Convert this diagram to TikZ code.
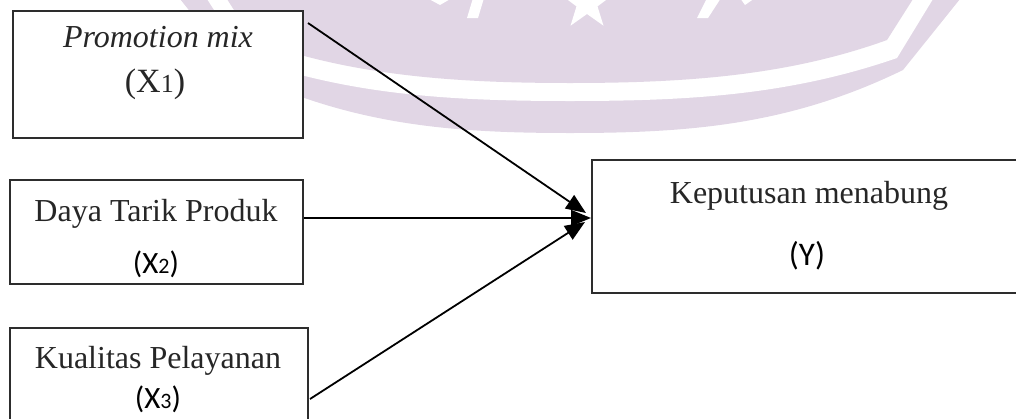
\documentclass[tikz,border=0pt]{standalone}
\usepackage{fontspec}
\setmainfont{Liberation Serif}
\newfontfamily\calib{Carlito}
\usetikzlibrary{arrows.meta}
\definecolor{wm}{RGB}{225,214,229}
\definecolor{ink}{RGB}{38,38,38}
\definecolor{edge}{RGB}{45,45,45}
\begin{document}
\begin{tikzpicture}[x=1pt,y=-1pt,
  box/.style={draw=edge, line width=2pt, fill=white, rectangle, anchor=north west, inner sep=0pt, outer sep=0pt},
  lbl/.style={anchor=base, inner sep=0pt, text=ink, font=\fontsize{32}{38}\selectfont},
  sub/.style={anchor=base, inner sep=0pt, text=black, font=\calib\fontsize{31}{36}\selectfont},
  arr/.style={line width=1.8pt, draw=black, -{Triangle[length=20pt,width=16pt]}},
  wmw/.style={fill=white, draw=none}
]
\useasboundingbox (0,0) rectangle (1016,418);
\clip (0,0) rectangle (1016,418);
% watermark (faint crest)
\fill[wm] (180,-1) -- (237,70) .. controls (350,125) and (450,133) .. (570,133)
  .. controls (690,133) and (790,125) .. (903,70) -- (960,-1) -- cycle;
\fill[wmw] (207,-1) -- (245,58) .. controls (350,95) and (450,101) .. (570,101)
  .. controls (690,101) and (790,95) .. (897,58) -- (933,-1) -- cycle;
\fill[wm] (227,-1) -- (253,40) .. controls (350,75) and (450,83) .. (570,83)
  .. controls (690,83) and (790,75) .. (887,40) -- (913,-1) -- cycle;
\fill[wmw] (587,-25) -- (580.5,-5.9) -- (560.4,-5.7) -- (576.5,6.4) -- (570.5,25.7)
  -- (587,14) -- (603.5,25.7) -- (597.5,6.4) -- (613.6,-5.7) -- (593.5,-5.9) -- cycle;
\fill[wmw] (473,-2) -- (484,-2) -- (478,18) -- (467,18) -- cycle;
\fill[wmw] (707,-2) -- (721,-2) -- (708,18) -- (697,18) -- cycle;
\fill[wmw] (740,-2) -- (755,-2) -- (745,5) -- cycle;
\fill[wmw] (427,-2) -- (452,-2) -- (440,5) -- cycle;
% boxes
\node[box, minimum width=290pt, minimum height=127pt] (x1) at (13,11) {};
\node[box, minimum width=293pt, minimum height=104pt] (x2) at (10,180) {};
\node[box, minimum width=298pt, minimum height=130pt] (x3) at (10,328) {};
\node[box, minimum width=460pt, minimum height=133pt] (y) at (592,160) {};
% connector ends
\coordinate (s1) at (308,23);
\coordinate (s2) at (304,218);
\coordinate (s3) at (310,399);
\coordinate (t1) at (586,213);
\coordinate (t2) at (591,218);
\coordinate (t3) at (585,222);
\draw[arr] (s1) -- (t1);
\draw[arr] (s2) -- (t2);
\draw[arr] (s3) -- (t3);
% labels
\node[lbl, font=\itshape\fontsize{32}{38}\selectfont] (l1a) at (158,47) {Promotion mix};
\node[lbl, font=\fontsize{34}{40}\selectfont] (l1b) at (155,92) {(X{\fontsize{26}{30}\selectfont 1})};
\node[lbl] (l2a) at (156,221) {Daya Tarik Produk};
\node[sub] (l2b) at (156,273) {(X{\fontsize{22}{26}\selectfont 2})};
\node[lbl] (l3a) at (158,368) {Kualitas Pelayanan};
\node[sub] (l3b) at (158,408) {(X{\fontsize{22}{26}\selectfont 3})};
\node[lbl] (lya) at (809,203) {Keputusan menabung};
\node[sub, font=\calib\fontsize{33}{38}\selectfont] (lyb) at (807,265) {(Y)};
\end{tikzpicture}
\end{document}
